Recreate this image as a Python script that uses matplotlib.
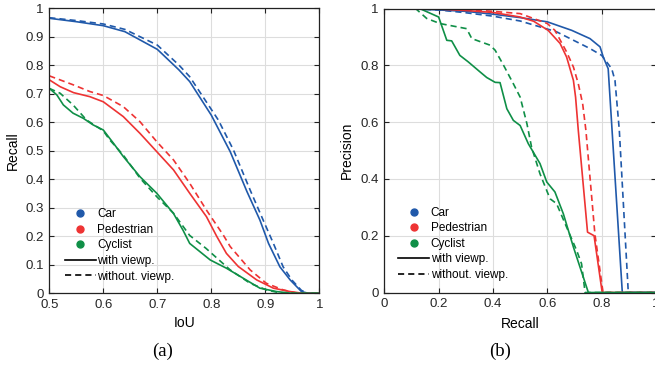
import numpy as np
import matplotlib
matplotlib.use("Agg")
import matplotlib.pyplot as plt
from matplotlib.lines import Line2D

plt.rcParams['font.family'] = ['Liberation Sans', 'DejaVu Sans']

# colours per class
c_car = '#2059aa'
c_ped = '#ee3333'
c_cyc = '#0f8f47'

# ---- (a) recall vs IoU ----
car_iou_with = [0.5, 0.55, 0.6, 0.64, 0.7, 0.74, 0.76, 0.8, 0.835, 0.866, 0.89, 0.906, 0.927, 0.946, 0.967, 0.98, 1.0]
car_rec_with = [0.965, 0.953, 0.939, 0.918, 0.856, 0.784, 0.743, 0.625, 0.497, 0.357, 0.257, 0.175, 0.093, 0.047, 0.006, 0.0, 0.0]
car_iou_wo = [0.5, 0.55, 0.6, 0.64, 0.7, 0.74, 0.76, 0.813, 0.841, 0.872, 0.896, 0.915, 0.933, 0.949, 0.967, 0.98, 1.0]
car_rec_wo = [0.967, 0.957, 0.945, 0.926, 0.871, 0.801, 0.76, 0.608, 0.503, 0.362, 0.257, 0.175, 0.093, 0.047, 0.01, 0.0, 0.0]

ped_iou_with = [0.5, 0.52, 0.545, 0.575, 0.6, 0.637, 0.668, 0.699, 0.73, 0.76, 0.791, 0.81, 0.828, 0.85, 0.884, 0.915, 0.946, 0.97, 1.0]
ped_rec_with = [0.749, 0.725, 0.704, 0.69, 0.672, 0.62, 0.561, 0.497, 0.433, 0.351, 0.269, 0.2, 0.14, 0.094, 0.047, 0.018, 0.006, 0.0, 0.0]
ped_iou_wo = [0.5, 0.545, 0.575, 0.6, 0.637, 0.668, 0.699, 0.73, 0.76, 0.791, 0.822, 0.835, 0.872, 0.902, 0.933, 0.96, 1.0]
ped_rec_wo = [0.763, 0.731, 0.708, 0.694, 0.655, 0.602, 0.532, 0.468, 0.386, 0.292, 0.205, 0.164, 0.082, 0.035, 0.012, 0.0, 0.0]

cyc_iou_with = [0.5, 0.514, 0.526, 0.544, 0.563, 0.581, 0.6, 0.619, 0.637, 0.668, 0.699, 0.73, 0.748, 0.76, 0.798, 0.828, 0.859, 0.89, 0.921, 0.95, 1.0]
cyc_rec_with = [0.719, 0.696, 0.661, 0.632, 0.614, 0.591, 0.573, 0.526, 0.48, 0.409, 0.351, 0.28, 0.22, 0.175, 0.117, 0.088, 0.053, 0.018, 0.006, 0.0, 0.0]
cyc_iou_wo = [0.5, 0.52, 0.544, 0.569, 0.6, 0.612, 0.637, 0.668, 0.699, 0.73, 0.76, 0.79, 0.835, 0.872, 0.902, 0.93, 1.0]
cyc_rec_wo = [0.719, 0.702, 0.661, 0.608, 0.57, 0.538, 0.485, 0.404, 0.339, 0.281, 0.203, 0.158, 0.082, 0.035, 0.012, 0.0, 0.0]

# ---- (b) precision vs recall ----
car_r_with = [0, 0.1, 0.2, 0.3, 0.4, 0.5, 0.6, 0.69, 0.757, 0.794, 0.806, 0.824, 0.876, 1.0]
car_p_with = [1.0, 0.999, 0.995, 0.99, 0.98, 0.968, 0.953, 0.923, 0.894, 0.865, 0.829, 0.788, 0.0, 0.0]
car_r_wo = [0, 0.1, 0.2, 0.3, 0.4, 0.5, 0.634, 0.757, 0.8, 0.837, 0.849, 0.865, 0.898, 1.0]
car_p_wo = [1.0, 0.999, 0.995, 0.985, 0.973, 0.956, 0.918, 0.859, 0.835, 0.788, 0.747, 0.571, 0.0, 0.0]

ped_r_with = [0, 0.2, 0.3, 0.4, 0.5, 0.55, 0.603, 0.647, 0.671, 0.696, 0.704, 0.714, 0.748, 0.772, 0.802, 1.0]
ped_p_with = [1.0, 0.998, 0.993, 0.986, 0.97, 0.955, 0.923, 0.877, 0.829, 0.747, 0.688, 0.571, 0.2125, 0.2, 0.0, 0.0]
ped_r_wo = [0, 0.2, 0.3, 0.4, 0.5, 0.6, 0.628, 0.671, 0.696, 0.714, 0.73, 0.742, 0.775, 0.805, 1.0]
ped_p_wo = [1.0, 0.999, 0.996, 0.99, 0.982, 0.947, 0.923, 0.847, 0.794, 0.735, 0.665, 0.571, 0.207, 0.0, 0.0]

cyc_r_with = [0, 0.13, 0.2, 0.23, 0.248, 0.278, 0.309, 0.352, 0.377, 0.408, 0.426, 0.451, 0.475, 0.5, 0.53, 0.573, 0.598, 0.628, 0.659, 0.696, 0.751, 1.0]
cyc_p_with = [1.0, 1.0, 0.97, 0.888, 0.886, 0.835, 0.812, 0.777, 0.757, 0.74, 0.739, 0.647, 0.606, 0.588, 0.524, 0.454, 0.389, 0.354, 0.277, 0.16, 0.0, 0.0]
cyc_r_wo = [0, 0.115, 0.156, 0.205, 0.303, 0.322, 0.389, 0.408, 0.439, 0.475, 0.5, 0.525, 0.542, 0.573, 0.61, 0.634, 0.671, 0.708, 0.726, 0.739, 1.0]
cyc_p_wo = [1.0, 1.0, 0.965, 0.947, 0.929, 0.894, 0.871, 0.853, 0.8, 0.735, 0.688, 0.594, 0.512, 0.418, 0.33, 0.313, 0.23, 0.148, 0.101, 0.0, 0.0]

class_names = ['Car', 'Pedestrian', 'Cyclist']
class_colors = [c_car, c_ped, c_cyc]

lw = 1.2
dash = (3.7, 2.4)

fig = plt.figure(figsize=(6.55, 3.66), dpi=100)
ax1 = fig.add_axes([49.3 / 655, 72.7 / 366, 270 / 655, 285 / 366])
ax2 = fig.add_axes([384.3 / 655, 73.5 / 366, 271.7 / 655, 284 / 366])

series_a = [
    (car_iou_with, car_rec_with, car_iou_wo, car_rec_wo, c_car),
    (ped_iou_with, ped_rec_with, ped_iou_wo, ped_rec_wo, c_ped),
    (cyc_iou_with, cyc_rec_with, cyc_iou_wo, cyc_rec_wo, c_cyc),
]
series_b = [
    (car_r_with, car_p_with, car_r_wo, car_p_wo, c_car),
    (ped_r_with, ped_p_with, ped_r_wo, ped_p_wo, c_ped),
    (cyc_r_with, cyc_p_with, cyc_r_wo, cyc_p_wo, c_cyc),
]

for ax, series in [(ax1, series_a), (ax2, series_b)]:
    for xw, yw, xo, yo, col in series:
        ax.plot(xw, yw, '-', color=col, lw=lw)
        ax.plot(xo, yo, '--', color=col, lw=lw, dashes=dash)

ax1.set_xlim(0.5, 1)
ax1.set_ylim(0, 1)
ax1.set_xticks(np.arange(0.5, 1.01, 0.1))
ax1.set_xticklabels(['0.5', '0.6', '0.7', '0.8', '0.9', '1'])
ax1.set_yticks(np.arange(0, 1.01, 0.1))
ax1.set_yticklabels(['0', '0.1', '0.2', '0.3', '0.4', '0.5', '0.6', '0.7', '0.8', '0.9', '1'])
ax1.set_xlabel('IoU', fontsize=10, va='center')
ax1.set_ylabel('Recall', fontsize=10, va='center')
ax1.xaxis.set_label_coords(0.5, -0.105)
ax1.yaxis.set_label_coords(-0.136, 0.5)

ax2.set_xlim(0, 1)
ax2.set_ylim(0, 1)
ax2.set_xticks(np.arange(0, 1.01, 0.2))
ax2.set_xticklabels(['0', '0.2', '0.4', '0.6', '0.8', '1'])
ax2.set_yticks(np.arange(0, 1.01, 0.2))
ax2.set_yticklabels(['0', '0.2', '0.4', '0.6', '0.8', '1'])
ax2.set_xlabel('Recall', fontsize=10, va='center')
ax2.set_ylabel('Precision', fontsize=10, va='center')
ax2.xaxis.set_label_coords(0.5, -0.11)
ax2.yaxis.set_label_coords(-0.138, 0.5)

for ax in (ax1, ax2):
    ax.grid(True, color='#dddddd', lw=0.8)
    ax.set_axisbelow(True)
    ax.tick_params(direction='in', length=3.5, width=0.8, labelsize=9.5,
                   top=True, right=True, colors='#222222', labelcolor='#262626', pad=4)
    for s in ax.spines.values():
        s.set_color('#222222')
        s.set_linewidth(0.9)

    handles = [Line2D([], [], ls='none', marker='o', ms=5, color=c) for c in class_colors]
    handles += [Line2D([], [], ls='-', color='black', lw=lw),
                Line2D([], [], ls='--', color='black', lw=lw, dashes=dash)]
    labels = class_names + ['with viewp.', 'without. viewp.']
    anchor = (0.058, 0.298) if ax is ax1 else (0.0515, 0.302)
    ax.legend(handles, labels, loc='upper left', bbox_to_anchor=anchor,
              frameon=False, fontsize=8.5, borderpad=0, borderaxespad=0,
              handlelength=2.6, handletextpad=0.15, labelspacing=0.3)

fig.text(163 / 655, 1 - 351.7 / 366, '(a)', ha='center', va='center',
         fontsize=13.5, family=['Liberation Serif', 'DejaVu Serif'])
fig.text(500 / 655, 1 - 351.7 / 366, '(b)', ha='center', va='center',
         fontsize=13.5, family=['Liberation Serif', 'DejaVu Serif'])

fig.savefig('out.png', dpi=100)
